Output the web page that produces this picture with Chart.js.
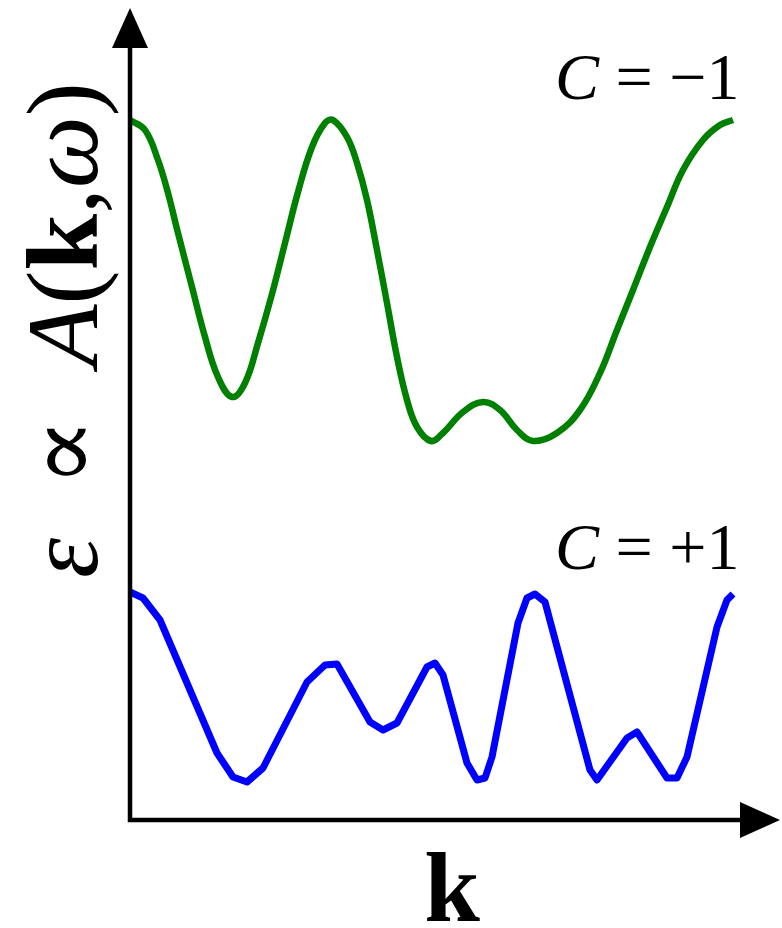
<!DOCTYPE html>
<html>
<head>
<meta charset="utf-8">
<script src="https://cdn.jsdelivr.net/npm/chart.js@4/dist/chart.umd.min.js"></script>
<style>
  html, body { margin: 0; padding: 0; background: #fff; }
  canvas { display: block; }
</style>
</head>
<body>
<canvas id="spectrum" width="782" height="928"></canvas>
<script>
// C = -1 branch (smooth)
const greenK = [0, 0.15, 0.28, 0.38, 0.48, 0.62, 0.75, 0.88, 1.02, 1.15, 1.28, 1.42, 1.55, 1.68, 1.82, 1.95, 2.03, 2.17, 2.27, 2.37, 2.47, 2.57, 2.67, 2.77, 2.87, 3.01, 3.13, 3.33, 3.53, 3.70, 3.87, 4.03, 4.27, 4.50, 4.70, 4.87, 5.03, 5.20, 5.37, 5.53, 5.73, 5.90, 6.03];
const greenA = [7.00, 6.90, 6.60, 6.27, 5.87, 5.33, 4.83, 4.43, 4.23, 4.37, 4.77, 5.26, 5.77, 6.28, 6.73, 6.97, 7.00, 6.83, 6.57, 6.20, 5.70, 5.17, 4.63, 4.20, 3.93, 3.79, 3.87, 4.08, 4.18, 4.10, 3.90, 3.79, 3.87, 4.10, 4.47, 4.90, 5.30, 5.73, 6.13, 6.50, 6.80, 6.95, 7.00];

// C = +1 branch (sampled, straight segments)
const blueK = [0, 0.13, 0.30, 0.87, 1.03, 1.17, 1.33, 1.77, 1.95, 2.07, 2.40, 2.53, 2.67, 2.97, 3.05, 3.13, 3.37, 3.47, 3.55, 3.62, 3.88, 3.97, 4.05, 4.15, 4.60, 4.67, 4.97, 5.07, 5.37, 5.47, 5.57, 5.87, 5.97, 6.03];
const blueA = [2.28, 2.22, 2.00, 0.67, 0.43, 0.38, 0.52, 1.38, 1.55, 1.56, 0.98, 0.90, 0.97, 1.53, 1.57, 1.45, 0.57, 0.40, 0.42, 0.63, 1.97, 2.22, 2.26, 2.18, 0.50, 0.40, 0.82, 0.88, 0.42, 0.42, 0.63, 1.93, 2.20, 2.26];

const seriesLabels = ["\u2212" + "1", "+1"];

const toPoints = (ks, as) => ks.map((k, i) => ({ x: k, y: as[i] }));

const SERIF = '"Liberation Serif", "DejaVu Serif", serif';

// draw a run of [text, font] pieces left to right
function drawRun(ctx, pieces, x, y) {
  let cx = x;
  pieces.forEach(([text, font]) => {
    ctx.font = font;
    ctx.fillText(text, cx, y);
    cx += ctx.measureText(text).width;
  });
}

const axesPlugin = {
  id: "arrowAxes",
  afterDatasetsDraw(chart) {
    const { ctx, scales } = chart;
    const x0 = scales.x.getPixelForValue(0);
    const y0 = scales.y.getPixelForValue(0);
    const ctop = 8;
    const cright = 780;

    ctx.save();
    ctx.strokeStyle = "#000";
    ctx.fillStyle = "#000";
    ctx.lineWidth = 4.5;
    ctx.lineCap = "square";

    ctx.beginPath();
    ctx.moveTo(x0, y0);
    ctx.lineTo(x0, ctop + 30);
    ctx.moveTo(x0, y0);
    ctx.lineTo(cright - 30, y0);
    ctx.stroke();

    // arrow heads
    ctx.beginPath();
    ctx.moveTo(x0, ctop);
    ctx.lineTo(x0 - 18, ctop + 40);
    ctx.lineTo(x0 + 18, ctop + 40);
    ctx.closePath();
    ctx.fill();

    ctx.beginPath();
    ctx.moveTo(cright, y0);
    ctx.lineTo(cright - 40, y0 - 18);
    ctx.lineTo(cright - 40, y0 + 18);
    ctx.closePath();
    ctx.fill();

    // curve labels
    ctx.textBaseline = "alphabetic";
    const it = "italic 66px " + SERIF;
    const up = "66px " + SERIF;
    drawRun(ctx, [["C", it], [" = " + seriesLabels[0], up]], 555, 99);
    drawRun(ctx, [["C", it], [" = " + seriesLabels[1], up]], 555, 569);

    // x axis title
    ctx.font = "bold 100px " + SERIF;
    ctx.textAlign = "center";
    ctx.fillText("k", 452, 921);

    // y axis title, rotated
    ctx.textAlign = "left";
    ctx.translate(97, 578);
    ctx.rotate(-Math.PI / 2);
    const f = 102;
    drawRun(ctx, [
      ["\u03b5", "italic " + f + "px " + SERIF],
      ["  \u221d  ", f + "px " + SERIF],
      ["A", "italic " + f + "px " + SERIF],
      ["(", f + "px " + SERIF],
      ["k", "bold " + f + "px " + SERIF],
      [",", f + "px " + SERIF],
      ["\u03c9", "italic " + f + "px " + SERIF],
      [")", f + "px " + SERIF]
    ], 0, 0);
    ctx.restore();
  }
};

new Chart(document.getElementById("spectrum"), {
  type: "line",
  data: {
    datasets: [
      {
        label: "C = " + seriesLabels[0],
        data: toPoints(greenK, greenA),
        borderColor: "#008000",
        borderWidth: 6.5,
        pointRadius: 0,
        tension: 0.4,
        clip: false
      },
      {
        label: "C = " + seriesLabels[1],
        data: toPoints(blueK, blueA),
        borderColor: "#0000ff",
        borderWidth: 7,
        borderJoinStyle: "round",
        pointRadius: 0,
        tension: 0,
        clip: false
      }
    ]
  },
  options: {
    responsive: false,
    animation: false,
    layout: { padding: { left: 130, right: 7, top: 20, bottom: 108 } },
    plugins: { legend: { display: false }, tooltip: { enabled: false } },
    scales: {
      x: { type: "linear", min: 0, max: 6.45, display: false },
      y: { type: "linear", min: 0, max: 8, display: false }
    }
  },
  plugins: [axesPlugin]
});
</script>
</body>
</html>
